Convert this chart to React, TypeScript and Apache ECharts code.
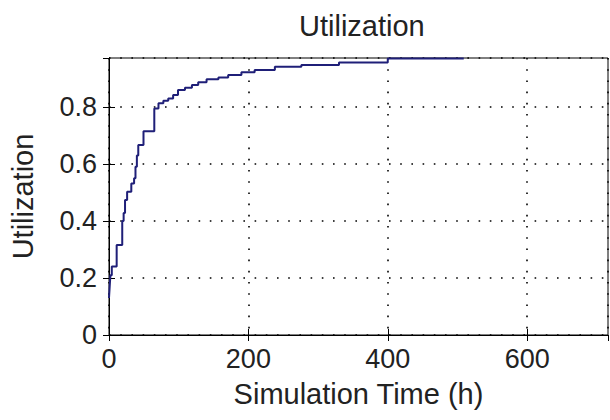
import React, { useEffect, useRef } from "react";
import * as echarts from "echarts";

const titleText = "Utilization";
const xAxisName = "Simulation Time (h)";
const yAxisName = "Utilization";
const times = [0, 1, 2, 4, 11, 19, 21, 23, 26, 32, 36, 38, 40, 42, 49.5, 65, 71, 78, 85, 92, 99, 109, 119, 128, 140, 157, 171, 190, 209, 238, 276, 330, 400, 509];
const utilization = [0.13, 0.17, 0.21, 0.24, 0.316, 0.4, 0.428, 0.474, 0.503, 0.532, 0.55, 0.59, 0.63, 0.667, 0.715, 0.795, 0.813, 0.822, 0.83, 0.842, 0.86, 0.868, 0.877, 0.887, 0.897, 0.904, 0.912, 0.922, 0.93, 0.941, 0.947, 0.956, 0.97, 0.97];
const xMax = 716;
const yMax = 0.972;
const xInterval = 200;
const yInterval = 0.2;

const FONT = "'Liberation Sans', Arial, sans-serif";

export default function App() {
  const ref = useRef<HTMLDivElement>(null);
  useEffect(() => {
    document.body.style.margin = "0";
    if (!ref.current) return;
    const chart = echarts.init(ref.current, undefined, { renderer: "svg" });
    const grid = { left: 107, right: 2, top: 58, bottom: 85 };
    const dotted = { color: "#000", width: 1.6, type: [1.6, 9.6] as any };
    chart.setOption({
      animation: false,
      backgroundColor: "#fff",
      title: {
        text: titleText,
        left: 294,
        top: 6,
        textStyle: { fontFamily: FONT, fontSize: 29, fontWeight: "normal", color: "#222" },
      },
      grid: { ...grid, show: true, borderColor: "#000", borderWidth: 1, backgroundColor: "#fff" },
      xAxis: [
        {
          type: "value",
          min: 0,
          max: xMax,
          interval: xInterval,
          name: xAxisName,
          nameLocation: "middle",
          nameGap: 44,
          nameTextStyle: { fontFamily: FONT, fontSize: 29, color: "#222" },
          axisLine: { show: true, lineStyle: { color: "#000", width: 1 } },
          axisTick: { show: true, inside: true, length: 6, lineStyle: { color: "#000" } },
          axisLabel: { showMaxLabel: false, margin: 10, fontFamily: FONT, fontSize: 27, color: "#222" },
          splitLine: { show: true, lineStyle: dotted },
        },
        {
          type: "value",
          position: "top",
          min: 0,
          max: xMax,
          interval: xInterval,
          axisLine: { show: true, lineStyle: { color: "#000", width: 1 } },
          axisTick: { show: true, inside: true, length: 6, lineStyle: { color: "#000" } },
          axisLabel: { show: false },
          splitLine: { show: false },
        },
      ],
      yAxis: [
        {
          type: "value",
          min: 0,
          max: yMax,
          interval: yInterval,
          name: yAxisName,
          nameLocation: "middle",
          nameGap: 72,
          nameTextStyle: { fontFamily: FONT, fontSize: 29, color: "#222" },
          axisLine: { show: true, lineStyle: { color: "#000", width: 1 } },
          axisTick: { show: true, inside: true, length: 6, lineStyle: { color: "#000" } },
          axisLabel: { showMaxLabel: false, margin: 12, fontFamily: FONT, fontSize: 27, color: "#222" },
          splitLine: { show: true, lineStyle: dotted },
        },
        {
          type: "value",
          position: "right",
          min: 0,
          max: yMax,
          interval: yInterval,
          axisLine: { show: true, lineStyle: { color: "#000", width: 1 } },
          axisTick: { show: true, inside: true, length: 6, lineStyle: { color: "#000" } },
          axisLabel: { show: false },
          splitLine: { show: false },
        },
      ],
      series: [
        {
          type: "line",
          step: "end",
          showSymbol: false,
          xAxisIndex: 0,
          yAxisIndex: 0,
          data: times.map((t, i) => [t, utilization[i]]),
          lineStyle: { color: "#1f1f78", width: 2 },
        },
      ],
    });
    return () => chart.dispose();
  }, []);
  return <div ref={ref} style={{ width: 610, height: 420 }} />;
}
